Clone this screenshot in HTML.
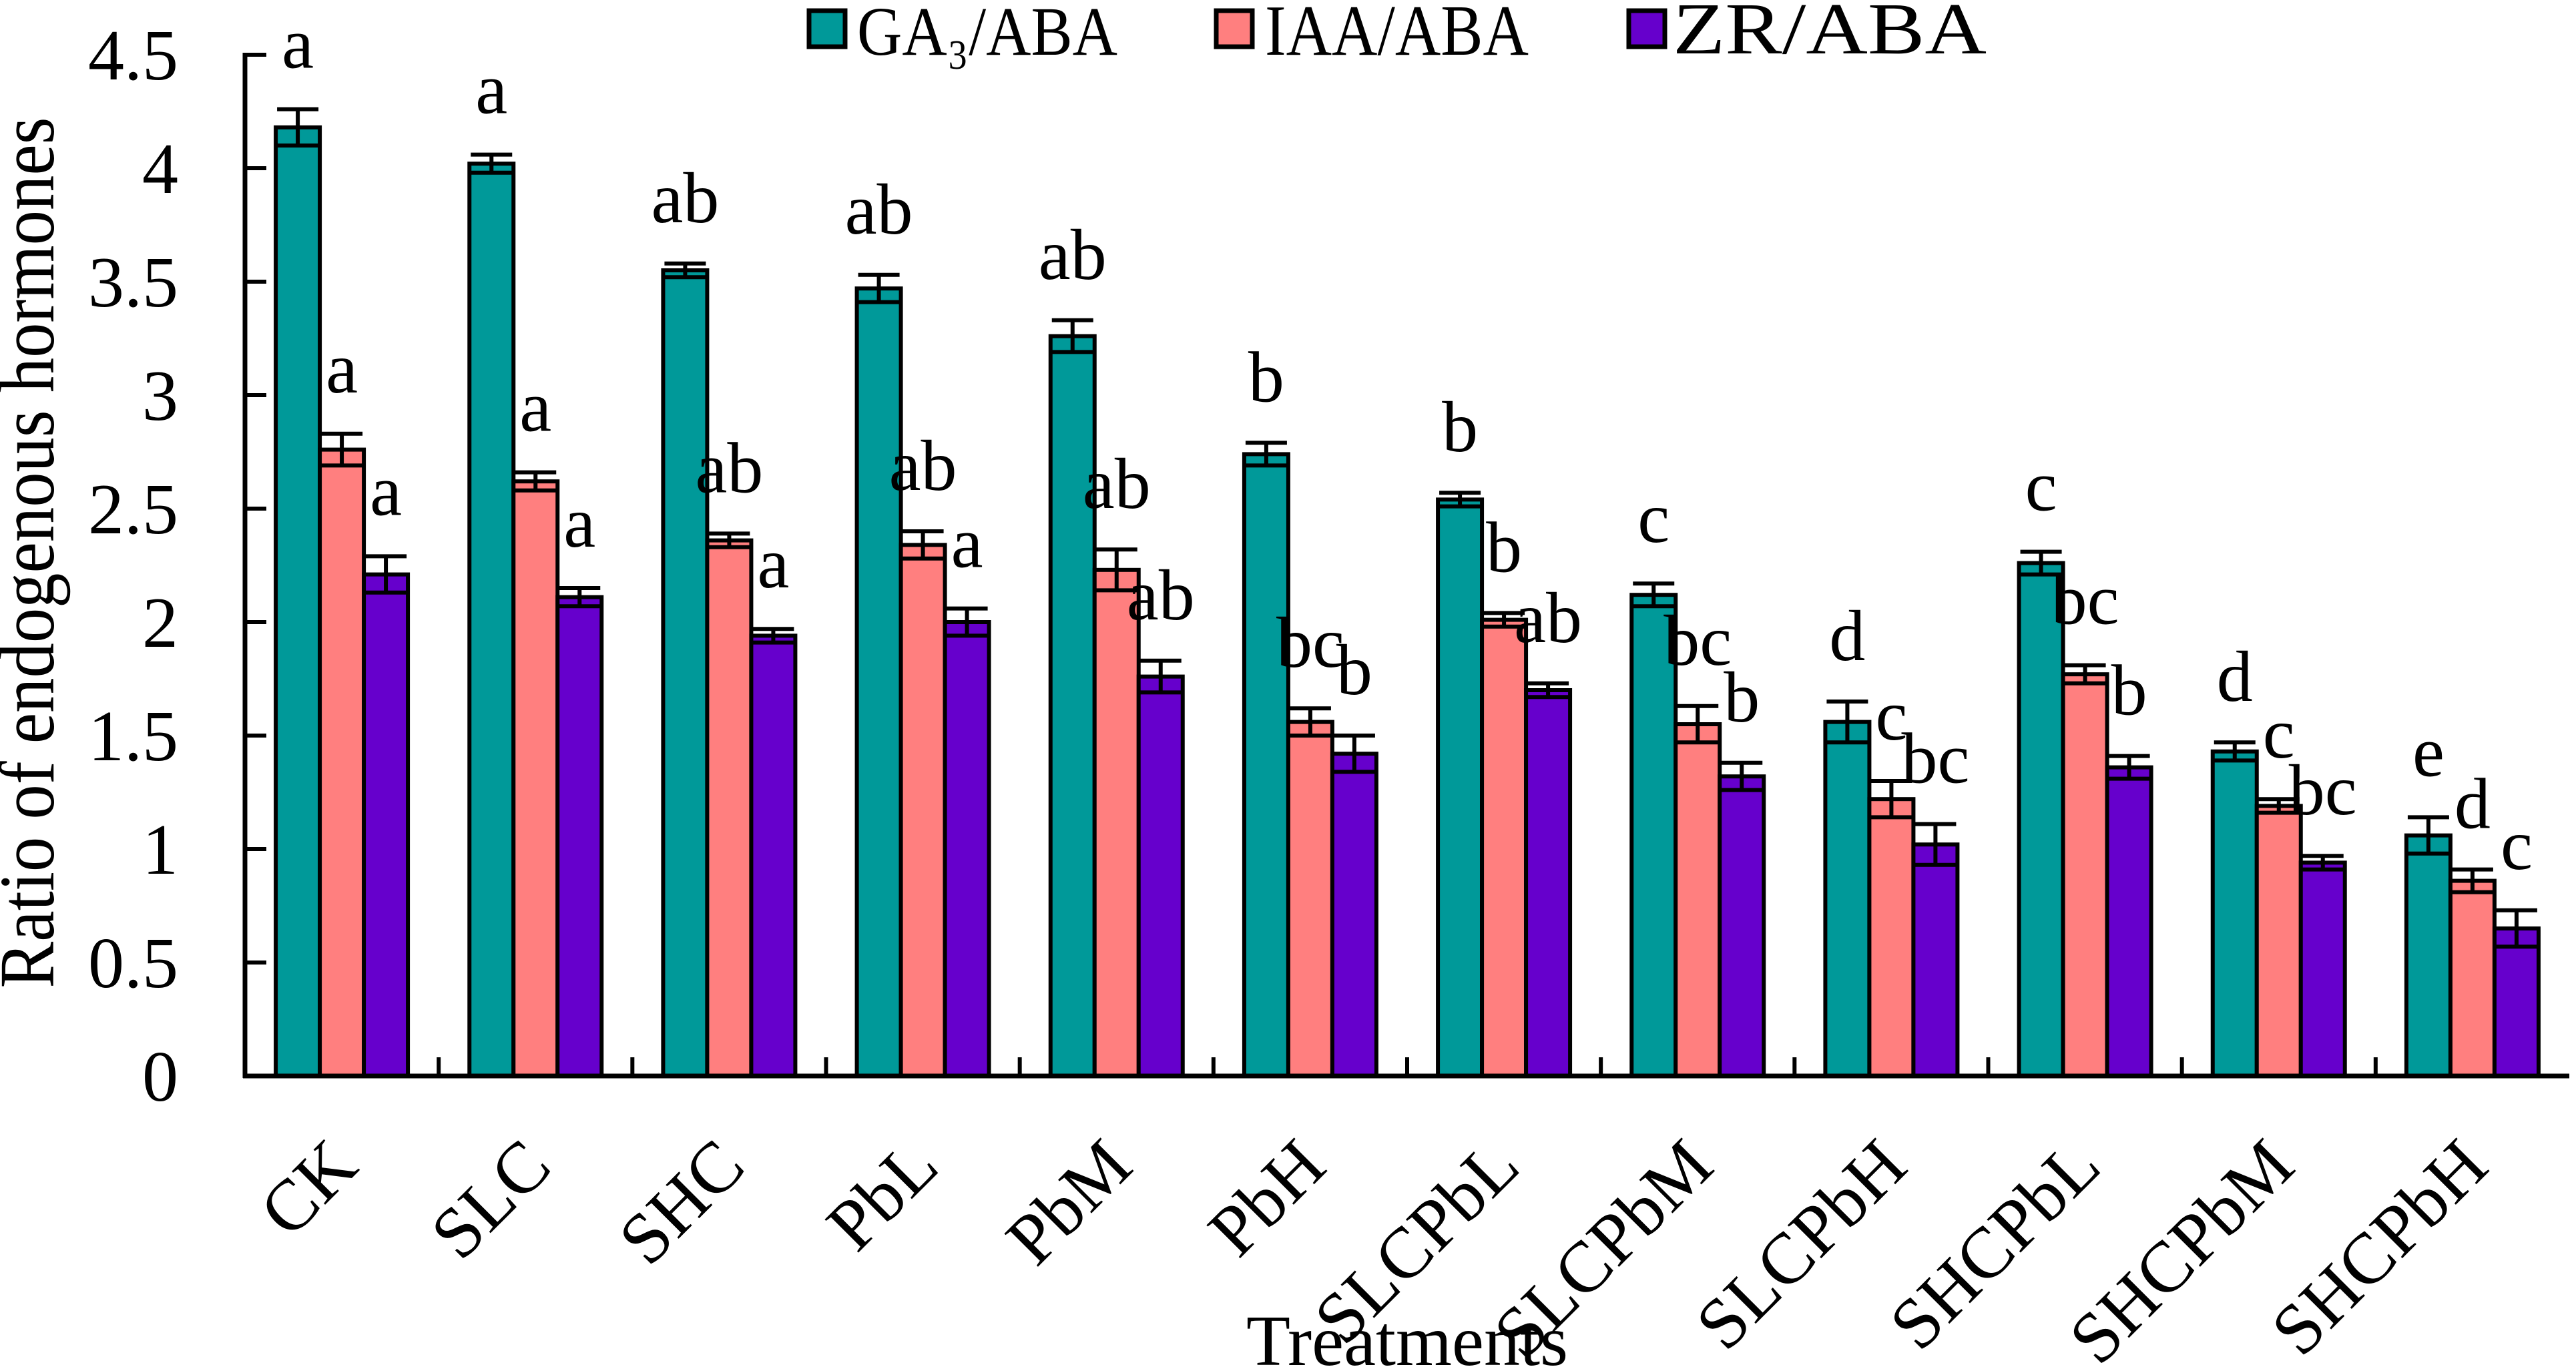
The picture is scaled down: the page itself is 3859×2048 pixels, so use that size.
<!DOCTYPE html>
<html><head><meta charset="utf-8">
<style>
html,body{margin:0;padding:0;background:#fff;}
svg{display:block;}
text{font-family:"Liberation Serif","Times New Roman",serif;fill:#000;}
</style></head>
<body>
<svg id="chart" width="3859" height="2048" viewBox="0 0 3859 2048" xmlns="http://www.w3.org/2000/svg">
<g id="legend">
  <g>
    <rect x="1212" y="16" width="54" height="54" fill="#009999" stroke="#000" stroke-width="7"/>
    <text x="1284" y="82" font-size="104" textLength="390" lengthAdjust="spacingAndGlyphs">GA₃/ABA</text>
  </g>
  <g>
    <rect x="1822" y="16" width="54" height="54" fill="#FF7F7F" stroke="#000" stroke-width="7"/>
    <text x="1895" y="82" font-size="108" textLength="395" lengthAdjust="spacingAndGlyphs">IAA/ABA</text>
  </g>
  <g>
    <rect x="2440" y="16" width="54" height="54" fill="#6600CC" stroke="#000" stroke-width="7"/>
    <text x="2506" y="80" font-size="110" textLength="470" lengthAdjust="spacingAndGlyphs">ZR/ABA</text>
  </g>
</g>
<g id="bars"></g>
<g id="axes"></g>
<text x="0" y="0" font-size="118" text-anchor="middle" textLength="1305" lengthAdjust="spacingAndGlyphs" transform="translate(80,828) rotate(-90)">Ratio of endogenous hormones</text>
<text x="2108" y="2045" font-size="108" text-anchor="middle">Treatments</text>
</svg>
<script>
const categories = ["CK","SLC","SHC","PbL","PbM","PbH","SLCPbL","SLCPbM","SLCPbH","SHCPbL","SHCPbM","SHCPbH"];
const seriesNames = ["GA3/ABA","IAA/ABA","ZR/ABA"];
const gaValues = [4.18,4.02,3.55,3.47,3.26,2.74,2.54,2.12,1.56,2.26,1.43,1.06];
const gaErrors = [0.08,0.04,0.03,0.06,0.07,0.05,0.03,0.05,0.09,0.05,0.04,0.08];
const gaLetters = ["a","a","ab","ab","ab","b","b","c","d","c","d","e"];
const iaaValues = [2.76,2.62,2.36,2.34,2.23,1.56,2.01,1.55,1.22,1.77,1.19,0.86];
const iaaErrors = [0.07,0.04,0.03,0.06,0.09,0.06,0.03,0.08,0.08,0.04,0.03,0.05];
const iaaLetters = ["a","a","ab","ab","ab","bc","b","bc","c","bc","c","d"];
const zrValues = [2.21,2.11,1.94,2.00,1.76,1.42,1.70,1.32,1.02,1.36,0.94,0.65];
const zrErrors = [0.08,0.04,0.03,0.06,0.07,0.08,0.03,0.06,0.09,0.05,0.03,0.08];
const zrLetters = ["a","a","a","a","ab","b","ab","b","bc","b","bc","c"];
const yTicks = [0,0.5,1,1.5,2,2.5,3,3.5,4,4.5];
const yTickLabels = ["0","0.5","1","1.5","2","2.5","3","3.5","4","4.5"];

const NS = "http://www.w3.org/2000/svg";
const X0 = 367, X1 = 3849, Y0 = 1612, UNIT = 340;
const groupW = (X1 - X0) / categories.length;
const barW = 66, offset = (groupW - 3 * barW) / 2;
const colors = ["#009999","#FF7F7F","#6600CC"];
function yScale(v){ return Y0 - v * UNIT; }
function xBar(i, s){ return X0 + i * groupW + offset + s * barW; }
function mk(tag, attrs, parent){
  const el = document.createElementNS(NS, tag);
  for (const k in attrs) el.setAttribute(k, attrs[k]);
  parent.appendChild(el);
  return el;
}
const bars = document.getElementById('bars');
const axes = document.getElementById('axes');
const vals = [gaValues, iaaValues, zrValues];
const errs = [gaErrors, iaaErrors, zrErrors];
const lets = [gaLetters, iaaLetters, zrLetters];
const keys = ["ga3","iaa","zr"];
for (let i = 0; i < categories.length; i++) {
  for (let s = 0; s < 3; s++) {
    const v = vals[s][i], e = errs[s][i];
    const x = xBar(i, s), y = yScale(v);
    const r = mk('rect', {x: x, y: y, width: barW, height: Y0 - y, fill: colors[s], stroke: '#000', 'stroke-width': 6}, bars);
    
    
    const cx = x + barW / 2, yt = yScale(v + e), yb = yScale(v - e);
    const eb = mk('path', {d: `M${cx},${yb}V${yt}M${cx-31},${yt}H${cx+31}M${cx-31},${yb}H${cx+31}`, stroke: '#000', 'stroke-width': 6, fill: 'none'}, bars);
    
    
    const t = mk('text', {x: cx, y: yt - 62, 'font-size': 108, 'text-anchor': 'middle'}, bars);
    t.textContent = lets[s][i];
    
    
  }
  const lx = X0 + (i + 0.5) * groupW + 28, ly = Y0 + 140;
  const xl = mk('text', {x: 0, y: 0, 'font-size': 108, 'text-anchor': 'end', transform: `translate(${lx},${ly}) rotate(-45)`}, axes);
  xl.textContent = categories[i];
  
  
  if (i > 0) {
    const tk = mk('line', {x1: X0 + i * groupW, x2: X0 + i * groupW, y1: Y0, y2: Y0 - 28, stroke: '#000', 'stroke-width': 6}, axes);
    
    
  }
}
for (let k = 0; k < yTicks.length; k++) {
  const y = yScale(yTicks[k]);
  const tk = mk('line', {x1: X0, x2: X0 + 32, y1: y, y2: y, stroke: '#000', 'stroke-width': 6}, axes);
  
  
  const tl = mk('text', {x: 267, y: y + 37, 'font-size': 108, 'text-anchor': 'end'}, axes);
  tl.textContent = yTickLabels[k];
  
  
}
const ya = mk('line', {x1: X0, x2: X0, y1: yScale(4.5) - 3, y2: Y0 + 3, stroke: '#000', 'stroke-width': 7}, axes);


const xa = mk('line', {x1: X0 - 3, x2: X1, y1: Y0, y2: Y0, stroke: '#000', 'stroke-width': 7}, axes);


</script>
</body></html>
